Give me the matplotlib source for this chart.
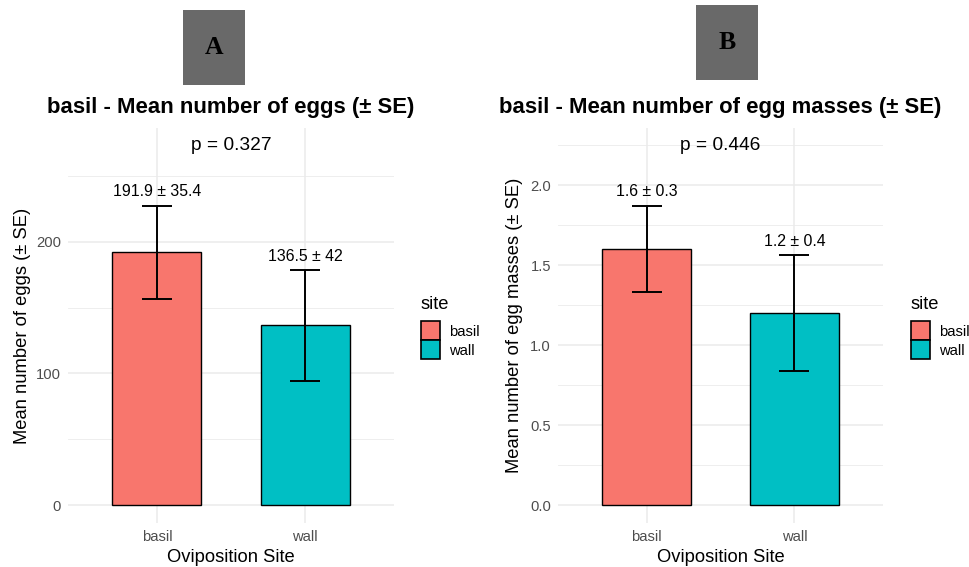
import matplotlib
matplotlib.use("Agg")
import matplotlib.pyplot as plt
from matplotlib.patches import Patch, Rectangle
from matplotlib.ticker import MultipleLocator

plt.rcParams["font.family"] = ["Liberation Sans", "DejaVu Sans"]

W, H = 970, 567

sites = ["basil", "wall"]
site_colors = ["#F8766D", "#00BFC4"]

eggs_mean = [191.9, 136.5]
eggs_se = [35.4, 42.0]
eggs_labels = ["191.9 ± 35.4", "136.5 ± 42"]

masses_mean = [1.6, 1.2]
masses_se = [0.27, 0.36]
masses_labels = ["1.6 ± 0.3", "1.2 ± 0.4"]

p_labels = ["p = 0.327", "p = 0.446"]
titles = ["basil - Mean number of eggs (± SE)",
          "basil - Mean number of egg masses (± SE)"]
ylabels = ["Mean number of eggs (± SE)", "Mean number of egg masses (± SE)"]
panel_tags = ["A", "B"]


def px_rect(x0, y0, x1, y1):
    # pixel box (top-left origin) -> figure fraction [l, b, w, h]
    return [x0 / W, 1 - y1 / H, (x1 - x0) / W, (y1 - y0) / H]


fig = plt.figure(figsize=(W / 100, H / 100), dpi=100)

panels = [
    dict(box=(68, 128, 394, 523), mean=eggs_mean, se=eggs_se, lab=eggs_labels,
         major=100, minor=50, fmt="{:.0f}", ylab_x=23, leg_x=421,
         tag_box=(183, 10, 245, 85)),
    dict(box=(558, 128, 883, 523), mean=masses_mean, se=masses_se, lab=masses_labels,
         major=0.5, minor=0.25, fmt="{:.1f}", ylab_x=515, leg_x=911,
         tag_box=(696, 5, 758, 80)),
]

for i, p in enumerate(panels):
    x0, y0, x1, y1 = p["box"]
    ax = fig.add_axes(px_rect(x0, y0, x1, y1))
    xs = list(range(len(sites)))
    ax.bar(xs, p["mean"], width=0.6, color=site_colors, edgecolor="black",
           linewidth=1.0, zorder=2)
    ax.errorbar(xs, p["mean"], yerr=p["se"], fmt="none", ecolor="black",
                elinewidth=1.4, capsize=10.5, capthick=1.4, zorder=3)
    tops = [m + s for m, s in zip(p["mean"], p["se"])]
    for x, t, lab in zip(xs, tops, p["lab"]):
        ax.annotate(lab, (x, t), xytext=(0, 10), textcoords="offset points",
                    ha="center", va="center", fontsize=11.4)
    p_y = max(tops) * 1.2
    ax.text(0.5, p_y, p_labels[i], ha="center", va="center", fontsize=13.8)

    ax.set_xlim(-0.6, 1.6)
    ax.set_ylim(-0.05 * p_y, 1.05 * p_y)
    ax.set_xticks(xs)
    ax.set_xticklabels(sites)
    ax.yaxis.set_major_locator(MultipleLocator(p["major"]))
    ax.yaxis.set_minor_locator(MultipleLocator(p["minor"]))
    ax.yaxis.set_major_formatter(lambda v, pos, f=p["fmt"]: f.format(v))
    ax.tick_params(axis="both", which="both", length=0, labelsize=10.6,
                   labelcolor="#4D4D4D", pad=5)
    ax.grid(True, which="major", color="#EBEBEB", linewidth=1.1, zorder=0)
    ax.grid(True, which="minor", axis="y", color="#EBEBEB", linewidth=0.6, zorder=0)
    ax.set_axisbelow(True)
    for s in ax.spines.values():
        s.set_visible(False)

    cx = (x0 + x1) / 2
    fig.text(cx / W, 1 - 108 / H, titles[i], ha="center", va="center",
             fontsize=15.9, fontweight="bold")
    fig.text(cx / W, 1 - 557 / H, "Oviposition Site", ha="center", va="center",
             fontsize=13.2)
    fig.text(p["ylab_x"] / W, 1 - ((y0 + y1) / 2) / H, ylabels[i], rotation=90,
             ha="center", va="center", fontsize=13.2)

    handles = [Patch(facecolor=c, edgecolor="black", linewidth=1.2) for c in site_colors]
    leg = fig.legend(handles, sites, title="site", loc="upper left",
                     bbox_to_anchor=(p["leg_x"] / W, 1 - 296 / H),
                     frameon=False, fontsize=10.6, title_fontsize=13.2,
                     handlelength=1.3, handleheight=1.6, labelspacing=0.0,
                     handletextpad=0.6, borderpad=0, borderaxespad=0,
                     alignment="left")
    leg._legend_box.sep = 6

    bx0, by0, bx1, by1 = p["tag_box"]
    fig.add_artist(Rectangle((bx0 / W, 1 - by1 / H), (bx1 - bx0) / W, (by1 - by0) / H,
                             transform=fig.transFigure, facecolor="#696969",
                             edgecolor="none"))
    fig.text((bx0 + bx1) / 2 / W, 1 - ((by0 + by1) / 2) / H, panel_tags[i],
             ha="center", va="center", fontsize=18.5, fontweight="bold",
             family="Liberation Serif")

fig.savefig("out.png", dpi=100, facecolor="white")
